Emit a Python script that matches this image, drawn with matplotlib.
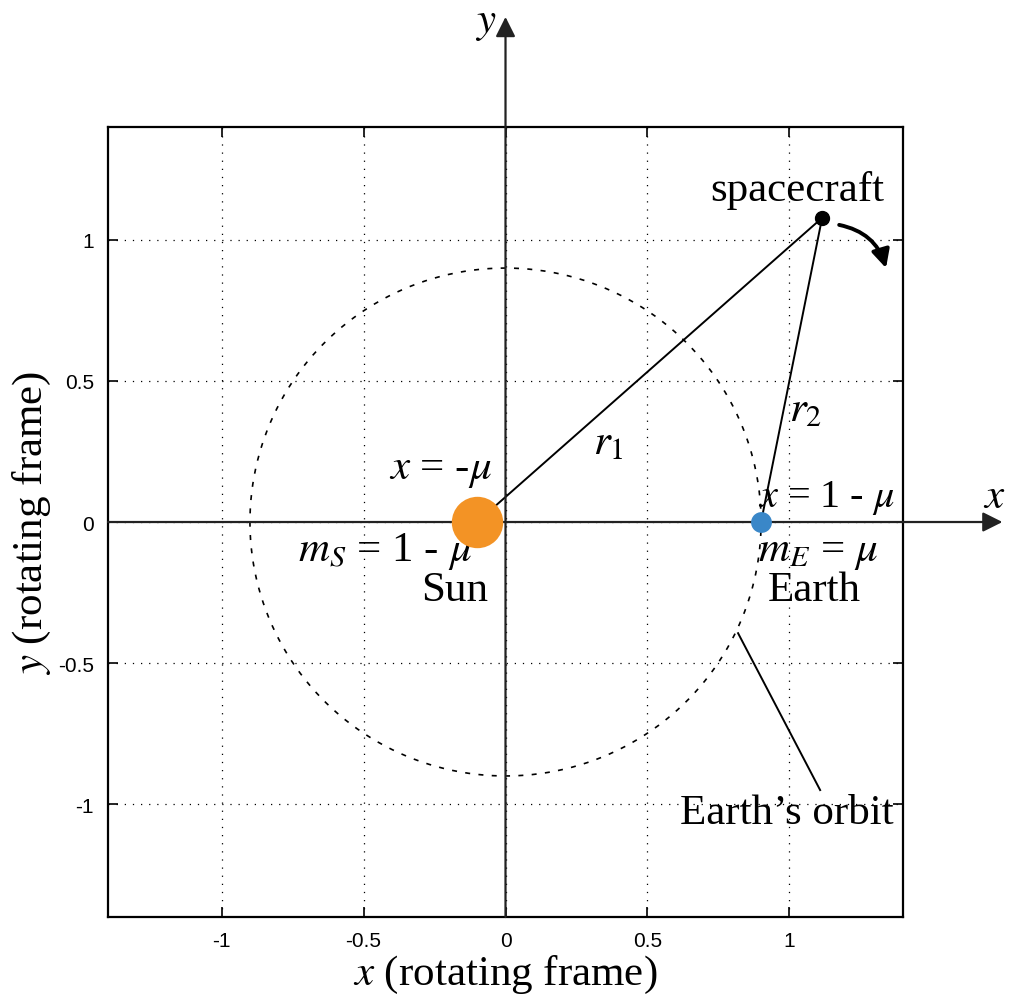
import numpy as np
import matplotlib
matplotlib.use('Agg')
from matplotlib import pyplot as plt
from matplotlib.patches import FancyArrowPatch

plt.rcParams['mathtext.fontset'] = 'stix'
plt.rcParams['font.family'] = ['Liberation Serif', 'DejaVu Serif']

# Data
mu = 0.1
orbit_radius = 0.9
sun_pos = (-mu, 0.0)
earth_pos = (1 - mu, 0.0)
craft_pos = (1.115, 1.078)
ticks = [-1, -0.5, 0, 0.5, 1]
tick_labels = ['-1', '-0.5', '0', '0.5', '1']
lim = 1.4

fig = plt.figure(figsize=(10.09, 10.03), dpi=100)
ax = fig.add_axes([0.107, 0.0847, 0.788, 0.7877])
ax.set_xlim(-lim, lim)
ax.set_ylim(-lim, lim)

# Grid and ticks (matlab style)
ax.set_xticks(ticks)
ax.set_yticks(ticks)
ax.set_xticklabels(tick_labels, family='Liberation Sans', fontsize=15)
ax.set_yticklabels(tick_labels, family='Liberation Sans', fontsize=15)
ax.tick_params(direction='in', length=7, width=1.2, top=True, right=True, pad=10)
ax.grid(True, color='k', linestyle=(0, (1, 5.5)), linewidth=0.9)
for s in ax.spines.values():
    s.set_linewidth(1.6)

# Coordinate axes with arrows
ax.annotate('', xy=(1.75, 0), xytext=(-lim, 0), annotation_clip=False,
            arrowprops=dict(arrowstyle='-|>', lw=1.6, color='#222222', mutation_scale=30,
                            shrinkA=0, shrinkB=0))
ax.annotate('', xy=(0, 1.79), xytext=(0, -lim), annotation_clip=False,
            arrowprops=dict(arrowstyle='-|>', lw=1.6, color='#222222', mutation_scale=30,
                            shrinkA=0, shrinkB=0))

# Earth's orbit
t = np.linspace(0, 2 * np.pi, 400)
ax.plot(orbit_radius * np.cos(t), orbit_radius * np.sin(t), color='k', lw=1.2,
        dashes=(3, 5))

# r1, r2 lines
ax.plot([sun_pos[0], craft_pos[0]], [sun_pos[1], craft_pos[1]], color='k', lw=1.4)
ax.plot([earth_pos[0], craft_pos[0]], [earth_pos[1], craft_pos[1]], color='k', lw=1.4)

# bodies
ax.plot(*sun_pos, 'o', ms=37, color='#F39325', mec='none', zorder=5)
ax.plot(*earth_pos, 'o', ms=15, color='#3A87C8', mec='none', zorder=5)
ax.plot(*craft_pos, 'o', ms=10, color='k', zorder=5)

# motion arrow
arr = FancyArrowPatch((1.175, 1.053), (1.34, 0.90), connectionstyle='arc3,rad=-0.3',
                      arrowstyle='-|>', mutation_scale=27, lw=2.8, color='k',
                      clip_on=False, shrinkA=0, shrinkB=0)
ax.add_patch(arr)

# orbit leader line
ax.plot([0.819, 1.108], [-0.394, -0.950], color='k', lw=1.4)

# labels
fs = 31
ax.text(1.027, 1.177, 'spacecraft', fontsize=fs, ha='center', va='center')
ax.text(0.99, -1.03, 'Earth\u2019s orbit', fontsize=fs, ha='center', va='center')
ax.text(0.363, 0.28, r'$r_1$', fontsize=fs, ha='center', va='center')
ax.text(1.055, 0.397, r'$r_2$', fontsize=fs, ha='center', va='center')
ax.text(-0.23, 0.184, r'$x$ = -$\mu$', fontsize=fs, ha='center', va='center')
ax.text(-0.424, -0.10, r'$m_S$ = 1 - $\mu$', fontsize=fs, ha='center', va='center')
ax.text(-0.18, -0.24, 'Sun', fontsize=fs, ha='center', va='center')
ax.text(1.13, 0.089, r'$x$ = 1 - $\mu$', fontsize=29, ha='center', va='center')
ax.text(1.10, -0.106, r'$m_E$ = $\mu$', fontsize=fs, ha='center', va='center')
ax.text(1.087, -0.24, 'Earth', fontsize=fs, ha='center', va='center')
ax.text(1.72, 0.089, r'$x$', fontsize=fs, ha='center', va='center', clip_on=False)
ax.text(-0.07, 1.77, r'$y$', fontsize=fs, ha='center', va='center', clip_on=False)

ax.set_xlabel(r'$x$ (rotating frame)', fontsize=fs, labelpad=2)
ax.set_ylabel(r'$y$ (rotating frame)', fontsize=fs, labelpad=4)

fig.savefig('out.png', dpi=100)
